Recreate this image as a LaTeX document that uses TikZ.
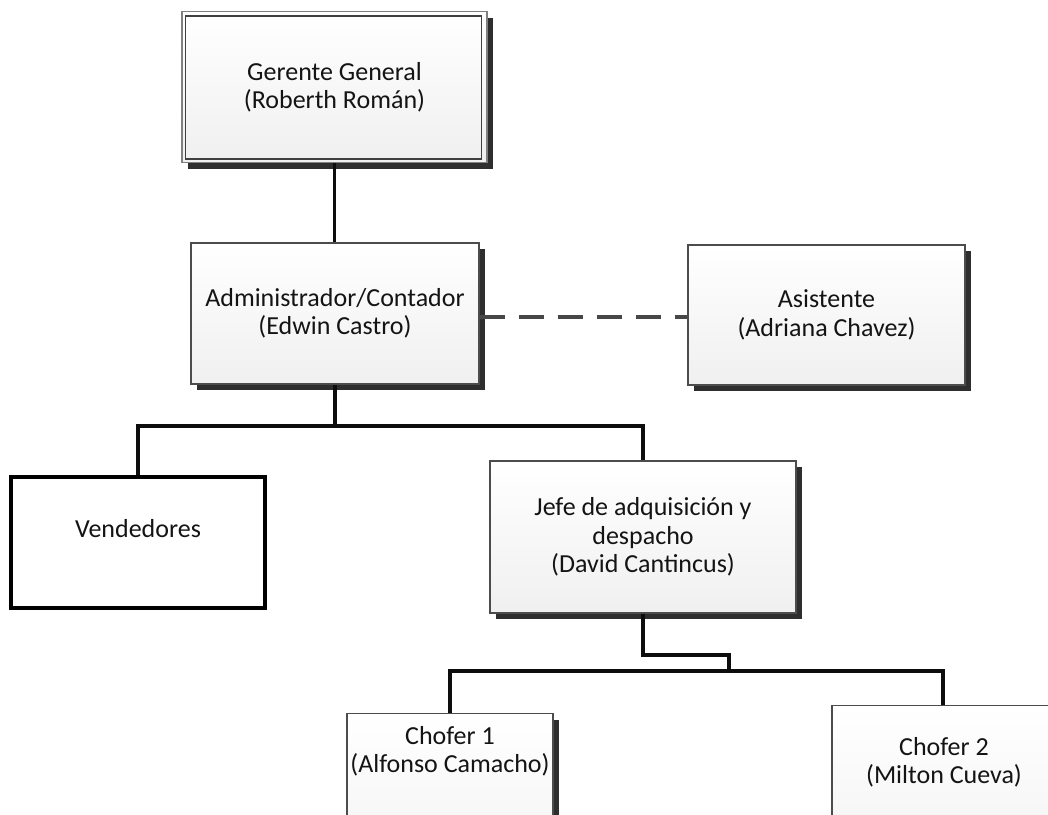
\documentclass[tikz,border=0pt]{standalone}
\usepackage{fontspec}
\setmainfont{Carlito}
\usetikzlibrary{shadows}
\newcommand\orgfont{\fontsize{19.5}{21.3}\selectfont}
\tikzset{
  box/.style={draw=black!70, line width=1.1pt, top color=white, bottom color=black!6,
    align=center, inner sep=0pt, font=\orgfont, text=black!92},
  shadowed/.style={general shadow={fill=black!82, shadow xshift=4.5pt, shadow yshift=-4.5pt}},
  plainbox/.style={draw=black, line width=2.3pt, fill=white, align=center,
    inner sep=0pt, font=\orgfont, text=black!92},
  txt/.style={align=center, inner sep=0pt, font=\orgfont, text=black!92},
  conn/.style={draw=black!95, line width=2.4pt},
  dashconn/.style={draw=black!72, line width=3pt, dash pattern=on 18.75pt off 10.5pt},
}
\begin{document}
\begin{tikzpicture}[x=0.75pt,y=-0.75pt]
\useasboundingbox (0,0) rectangle (1048,814);
\clip (0,0) rectangle (1048,814);
\fill[white] (0,0) rectangle (1048,814);

% General manager, framed twice
\node[box, shadowed, draw=black!50, line width=0.8pt, minimum width=228.75pt, minimum height=113.25pt]
  (ger) at (334.5,87) {Gerente General\\(Roberth Román)};
\draw[black!75, line width=1.2pt] ([shift={(4,5)}]ger.north west) rectangle ([shift={(-6,-4)}]ger.south east);

% Second level
\node[box, shadowed, minimum width=216pt, minimum height=105.75pt]
  (adm) at (335,313.5) {Administrador/Contador\\(Edwin Castro)};
\node[box, shadowed, minimum width=207.75pt, minimum height=105pt]
  (asis) at (826.5,315) {Asistente\\(Adriana Chavez)};

% Third level
\node[plainbox, minimum width=190.5pt, minimum height=98.25pt]
  (vend) at (138,542.5) {Vendedores\\\mbox{}};
\node[box, shadowed, minimum width=229.5pt, minimum height=114pt]
  (jefe) at (643,537) {Jefe de adquisición y\\despacho\\(David Cantincus)};

% Drivers (boxes run past the lower edge)
\node[box, shadowed, anchor=north, minimum width=154.5pt, minimum height=150pt]
  (c1) at (450,713) {};
\node[box, anchor=north, minimum width=166.5pt, minimum height=150pt]
  (c2) at (943,705) {};
\node[txt] (c1t) at (450,751) {Chofer 1\\(Alfonso Camacho)};
\node[txt] (c2t) at (944,762) {Chofer 2\\(Milton Cueva)};

% Connectors
\coordinate (dl) at (0,317);
\coordinate (bus1) at (0,426);
\coordinate (bj) at (729,655);
\coordinate (bc) at (0,671);

\draw[conn] (ger.south) -- (ger.south |- adm.north);
\draw[dashconn] (adm.east |- dl) -- (asis.west |- dl);
\draw[conn] (adm.south) -- (adm.south |- bus1);
\draw[conn] (vend.north) -- (vend.north |- bus1) -- (jefe.north |- bus1) -- (jefe.north);
\draw[conn] (jefe.south) -- (jefe.south |- bj) -- (bj) -- (bj |- bc);
\draw[conn] (c1.north) -- (c1.north |- bc) -- (c2.north |- bc) -- (c2.north);
\end{tikzpicture}
\end{document}
